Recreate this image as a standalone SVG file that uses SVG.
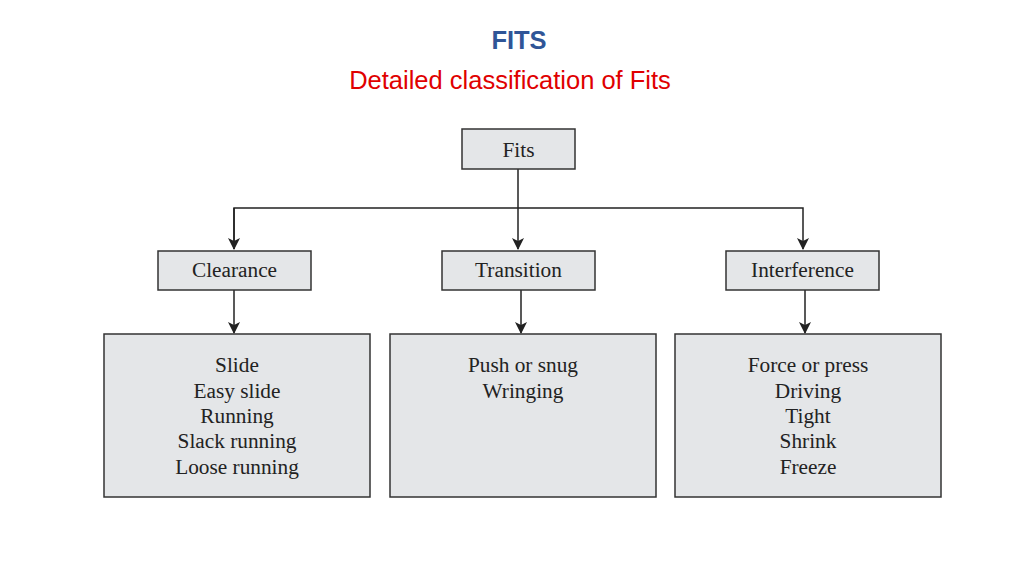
<svg xmlns="http://www.w3.org/2000/svg" width="1024" height="576" viewBox="0 0 1024 576">
<style>
.box{fill:#e4e6e8;stroke:#333;stroke-width:1.5}
.t{font-family:"Liberation Serif",serif;font-size:21.3px;fill:#222;text-anchor:middle}
.c{stroke:#222;stroke-width:1.5;fill:none}
</style>
<defs>
<marker id="ah" markerWidth="12" markerHeight="14" refX="11" refY="6" orient="auto" markerUnits="userSpaceOnUse">
<path d="M0,0 L12,6 L0,12 L3,6 Z" fill="#222"/>
</marker>
</defs>
<rect width="1024" height="576" fill="#fff"/>
<text x="519" y="49" font-family="Liberation Sans,Arial,sans-serif" font-size="25.5" font-weight="bold" fill="#2f5597" text-anchor="middle">FITS</text>
<text x="510" y="89" font-family="Liberation Sans,Arial,sans-serif" font-size="25.5" fill="#e00000" text-anchor="middle">Detailed classification of Fits</text>
<g id="connectors">
<line class="c" x1="518" y1="169" x2="518" y2="249" marker-end="url(#ah)"/>
<path class="c" d="M234,249 L234,208 L803,208 L803,249" marker-end="url(#ah)"/>
<line class="c" x1="234" y1="208" x2="234" y2="249" marker-end="url(#ah)"/>
<line class="c" x1="234" y1="290" x2="234" y2="333" marker-end="url(#ah)"/>
<line class="c" x1="521" y1="290" x2="521" y2="333" marker-end="url(#ah)"/>
<line class="c" x1="805" y1="290" x2="805" y2="333" marker-end="url(#ah)"/>
</g>
<g id="fits"><rect class="box" x="462" y="129" width="113" height="40"/><text class="t" x="518.5" y="157">Fits</text></g>
<g id="clearance"><rect class="box" x="158" y="251" width="153" height="39"/><text class="t" x="234.5" y="277">Clearance</text></g>
<g id="transition"><rect class="box" x="442" y="251" width="153" height="39"/><text class="t" x="518.5" y="277">Transition</text></g>
<g id="interference"><rect class="box" x="726" y="251" width="153" height="39"/><text class="t" x="802.5" y="277">Interference</text></g>
<g id="clearance-list"><rect class="box" x="104" y="334" width="266" height="163"/>
<text class="t" x="237" y="372">Slide</text><text class="t" x="237" y="398">Easy slide</text><text class="t" x="237" y="423">Running</text><text class="t" x="237" y="448">Slack running</text><text class="t" x="237" y="474">Loose running</text></g>
<g id="transition-list"><rect class="box" x="390" y="334" width="266" height="163"/>
<text class="t" x="523" y="372">Push or snug</text><text class="t" x="523" y="398">Wringing</text></g>
<g id="interference-list"><rect class="box" x="675" y="334" width="266" height="163"/>
<text class="t" x="808" y="372">Force or press</text><text class="t" x="808" y="398">Driving</text><text class="t" x="808" y="423">Tight</text><text class="t" x="808" y="448">Shrink</text><text class="t" x="808" y="474">Freeze</text></g>
</svg>
